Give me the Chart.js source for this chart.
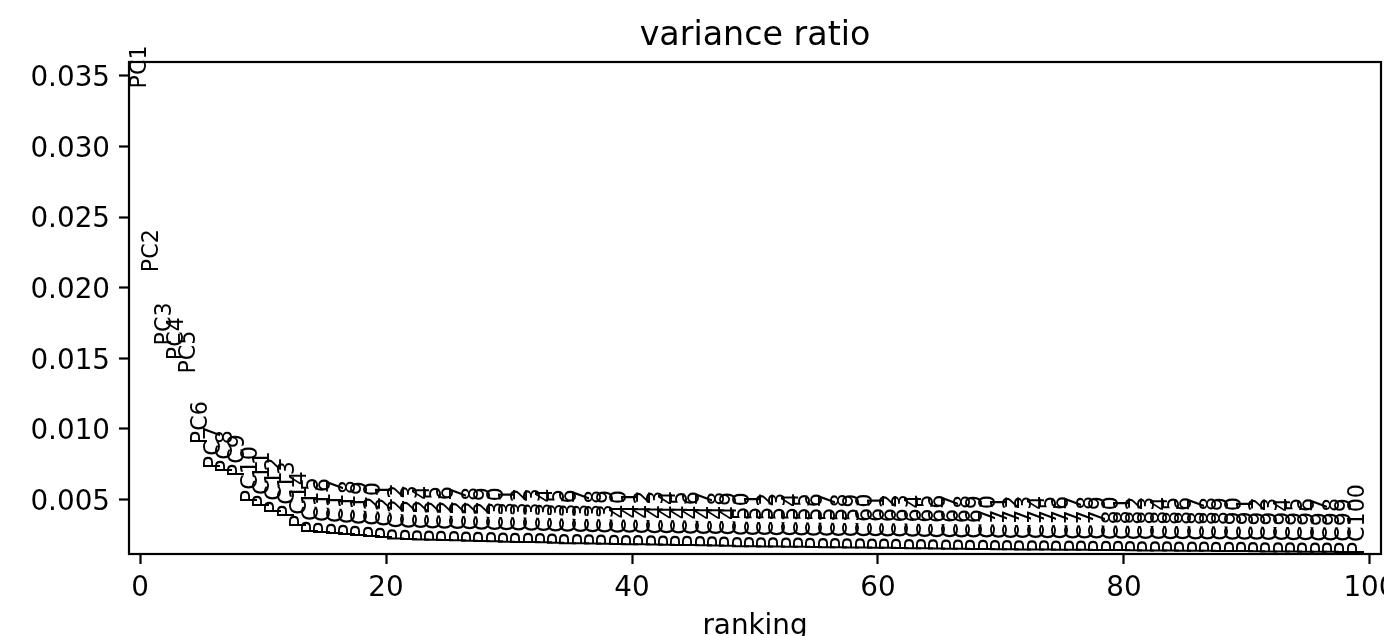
<!DOCTYPE html>
<html>
<head>
<meta charset="utf-8">
<script src="https://cdn.jsdelivr.net/npm/chart.js@4/dist/chart.umd.min.js"></script>
<style>
  html, body { margin: 0; padding: 0; background: #fff; }
  #wrap { width: 1384px; height: 636px; }
</style>
</head>
<body>
<div id="wrap"><canvas id="chart" width="1384" height="636"></canvas></div>
<script>
// ranking position of each PC (0 based, as in the plot)
const ranks = Array.from({ length: 100 }, (_, i) => i);
// label drawn at each point
const pcNames = ranks.map(i => 'PC' + (i + 1));
// variance ratio per PC
const varianceRatio = [
  0.03427, 0.02126, 0.01607, 0.01503, 0.01408, 0.00908, 0.00731, 0.00703, 0.00674, 0.00490,
  0.00454, 0.00412, 0.00384, 0.00313, 0.00270, 0.00263, 0.00256, 0.00249, 0.00242, 0.00235,
  0.00228, 0.00217, 0.00213, 0.00211, 0.00208, 0.00206, 0.00204, 0.00202, 0.00199, 0.00197,
  0.00195, 0.00193, 0.00192, 0.00190, 0.00187, 0.00184, 0.00183, 0.00181, 0.00180, 0.00178,
  0.00177, 0.00176, 0.00174, 0.00173, 0.00172, 0.00171, 0.00169, 0.00168, 0.00166, 0.00163,
  0.00162, 0.00161, 0.00160, 0.00159, 0.00158, 0.00157, 0.00156, 0.00155, 0.00154, 0.00153,
  0.00152, 0.00151, 0.00150, 0.00149, 0.00148, 0.00146, 0.00145, 0.00144, 0.00143, 0.00143,
  0.00142, 0.00141, 0.00140, 0.00140, 0.00139, 0.00138, 0.00137, 0.00137, 0.00136, 0.00135,
  0.00135, 0.00134, 0.00133, 0.00133, 0.00132, 0.00131, 0.00130, 0.00130, 0.00129, 0.00128,
  0.00128, 0.00127, 0.00126, 0.00126, 0.00125, 0.00124, 0.00123, 0.00123, 0.00122, 0.00121
];
const xTicks = [0, 20, 40, 60, 80, 100];
const yTicks = [0.005, 0.010, 0.015, 0.020, 0.025, 0.030, 0.035];
const titleText = 'variance ratio';
const xTitle = 'ranking';

const FONT = "'DejaVu Sans', sans-serif";

// y limits like scanpy: 0.95*min .. 1.05*max
const yMin = 0.95 * Math.min(...varianceRatio);
const yMax = 1.05 * Math.max(...varianceRatio);

const points = ranks.map(i => ({ x: i, y: varianceRatio[i] }));

// draws the frame, title, axis label and the rotated PC labels
const textPlugin = {
  id: 'pcText',
  afterDraw(chart) {
    const ctx = chart.ctx;
    const area = chart.chartArea;
    const xs = chart.scales.x;
    const ys = chart.scales.y;

    ctx.save();
    ctx.fillStyle = '#000';
    ctx.font = '22.2px ' + FONT;
    ctx.textAlign = 'left';
    ctx.textBaseline = 'alphabetic';
    ranks.forEach(i => {
      const px = xs.getPixelForValue(i);
      const py = ys.getPixelForValue(varianceRatio[i]);
      ctx.save();
      ctx.translate(px, py);
      ctx.rotate(-Math.PI / 2);
      ctx.fillText(pcNames[i], -2.2, 5.9);
      ctx.restore();
    });

    // frame
    ctx.strokeStyle = '#000';
    ctx.lineWidth = 2.2;
    ctx.strokeRect(area.left, area.top, area.right - area.left, area.bottom - area.top);

    // title
    ctx.textAlign = 'center';
    ctx.font = '33.3px ' + FONT;
    ctx.fillText(titleText, (area.left + area.right) / 2, 45);

    // x axis label
    ctx.font = '27.8px ' + FONT;
    ctx.fillText(xTitle, (area.left + area.right) / 2, 634);
    ctx.restore();
  }
};

new Chart(document.getElementById('chart'), {
  type: 'scatter',
  data: {
    datasets: [{
      data: points,
      pointRadius: 0,
      pointHoverRadius: 0,
      showLine: false
    }]
  },
  options: {
    responsive: false,
    animation: false,
    events: [],
    layout: { padding: { top: 62, right: 3, bottom: 0, left: 0 } },
    plugins: {
      legend: { display: false },
      tooltip: { enabled: false },
      title: { display: false }
    },
    scales: {
      x: {
        type: 'linear',
        min: -0.9,
        max: 100.9,
        afterBuildTicks: axis => { axis.ticks = xTicks.map(v => ({ value: v })); },
        afterFit: scale => { scale.height = 82; scale.paddingLeft = 0; scale.paddingRight = 0; },
        border: { display: false },
        grid: { drawOnChartArea: false, drawTicks: true, tickLength: 10, tickWidth: 2.2, tickColor: '#000' },
        ticks: {
          color: '#000',
          padding: 8,
          maxRotation: 0,
          font: { family: FONT, size: 27.8 },
          callback: v => String(v)
        }
      },
      y: {
        type: 'linear',
        min: yMin,
        max: yMax,
        afterBuildTicks: axis => { axis.ticks = yTicks.map(v => ({ value: v })); },
        afterFit: scale => { scale.width = 129; scale.paddingTop = 0; scale.paddingBottom = 0; },
        border: { display: false },
        grid: { drawOnChartArea: false, drawTicks: true, tickLength: 10, tickWidth: 2.2, tickColor: '#000' },
        ticks: {
          color: '#000',
          padding: 9,
          labelOffset: 3,
          font: { family: FONT, size: 27.8 },
          callback: v => v.toFixed(3)
        }
      }
    }
  },
  plugins: [textPlugin]
});
</script>
</body>
</html>
